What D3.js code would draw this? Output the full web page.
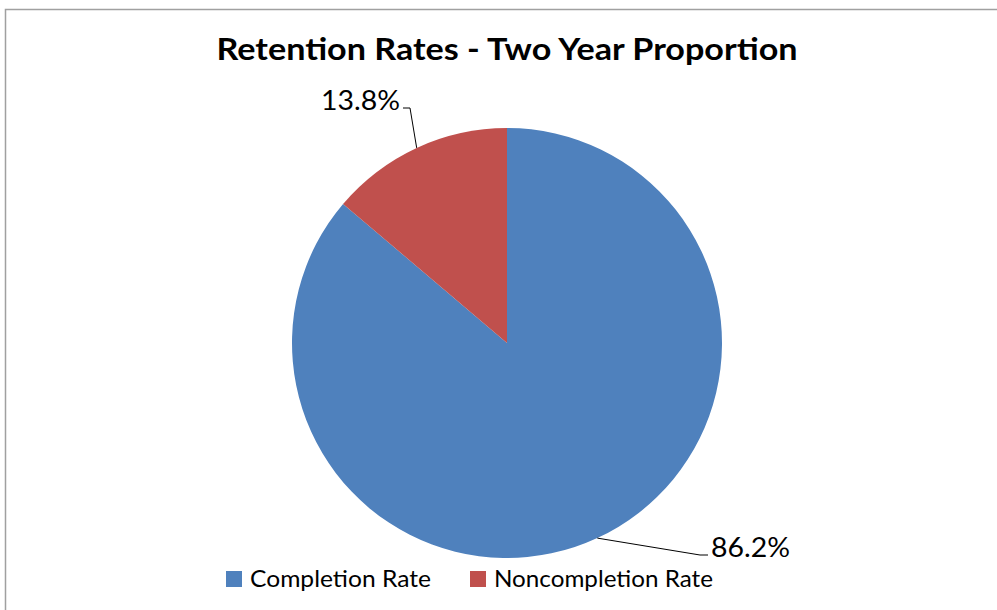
<!DOCTYPE html>
<html>
<head>
<meta charset="utf-8">
<script src="https://cdn.jsdelivr.net/npm/d3@7"></script>
<style>
  body { margin: 0; background: #fff; }
  svg { display: block; font-family: Lato, "Open Sans", sans-serif; }
</style>
</head>
<body>
<div id="chart"></div>
<script>
// Chart data
const categories = ['Completion Rate', 'Noncompletion Rate'];
const values = [86.2, 13.8];
const valueLabels = ['86.2%', '13.8%'];
const colors = ['#4F81BD', '#C0504D'];
const title = 'Retention Rates - Two Year Proportion';

const W = 997, H = 610;
const cx = 507, cy = 343, radius = 215;

const svg = d3.select('#chart')
  .append('svg')
  .attr('width', W)
  .attr('height', H);

// Chart area border (runs off the right and bottom edges)
svg.append('rect')
  .attr('x', 5.5)
  .attr('y', 9.5)
  .attr('width', W + 10)
  .attr('height', H + 10)
  .attr('fill', '#fff')
  .attr('stroke', '#a0a0a0')
  .attr('stroke-width', 1.5);

// squeeze a text to the width it has in the original (narrow font there)
function fitWidth(sel, target) {
  sel.attr('textLength', target).attr('lengthAdjust', 'spacingAndGlyphs');
}

// Title
const titleText = svg.append('text')
  .attr('x', cx)
  .attr('y', 60)
  .attr('text-anchor', 'middle')
  .style('font-size', '31px')
  .style('font-weight', 'bold')
  .attr('fill', '#000')
  .text(title);
fitWidth(titleText, 581);

const pie = d3.pie().sort(null).value(d => d);
const arcs = pie(values);
const arc = d3.arc().innerRadius(0).outerRadius(radius);

const g = svg.append('g')
  .attr('transform', `translate(${cx}, ${cy})`);

g.selectAll('path.slice')
  .data(arcs)
  .enter()
  .append('path')
  .attr('class', 'slice')
  .attr('d', arc)
  .attr('fill', (d, i) => colors[i]);

// Data labels with leader lines
const labelPos = [
  { x: 711, y: 555, anchor: 'start', elbow: 700 },
  { x: 400, y: 108, anchor: 'end', elbow: 410 }
];

arcs.forEach((d, i) => {
  const mid = (d.startAngle + d.endAngle) / 2;
  const px = cx + radius * Math.sin(mid);
  const py = cy - radius * Math.cos(mid);
  const p = labelPos[i];
  const endX = p.anchor === 'start' ? p.x - 3 : p.x + 3;
  svg.append('polyline')
    .attr('points', `${px},${py} ${p.elbow},${p.y} ${endX},${p.y}`)
    .attr('fill', 'none')
    .attr('stroke', '#000')
    .attr('stroke-width', 1);
  const t = svg.append('text')
    .attr('x', p.x)
    .attr('y', p.y + 2)
    .attr('text-anchor', p.anchor)
    .style('font-size', '26px')
    .attr('fill', '#000')
    .text(valueLabels[i]);
  fitWidth(t, 79);
});

// Legend
const legendItems = [
  { x: 226, textW: 181 },
  { x: 470, textW: 219 }
];
categories.forEach((c, i) => {
  const lx = legendItems[i].x;
  svg.append('rect')
    .attr('x', lx)
    .attr('y', 571)
    .attr('width', 16)
    .attr('height', 16)
    .attr('fill', colors[i]);
  const t = svg.append('text')
    .attr('x', lx + 24)
    .attr('y', 587)
    .style('font-size', '24px')
    .attr('fill', '#000')
    .text(c);
  fitWidth(t, legendItems[i].textW);
});
</script>
</body>
</html>
